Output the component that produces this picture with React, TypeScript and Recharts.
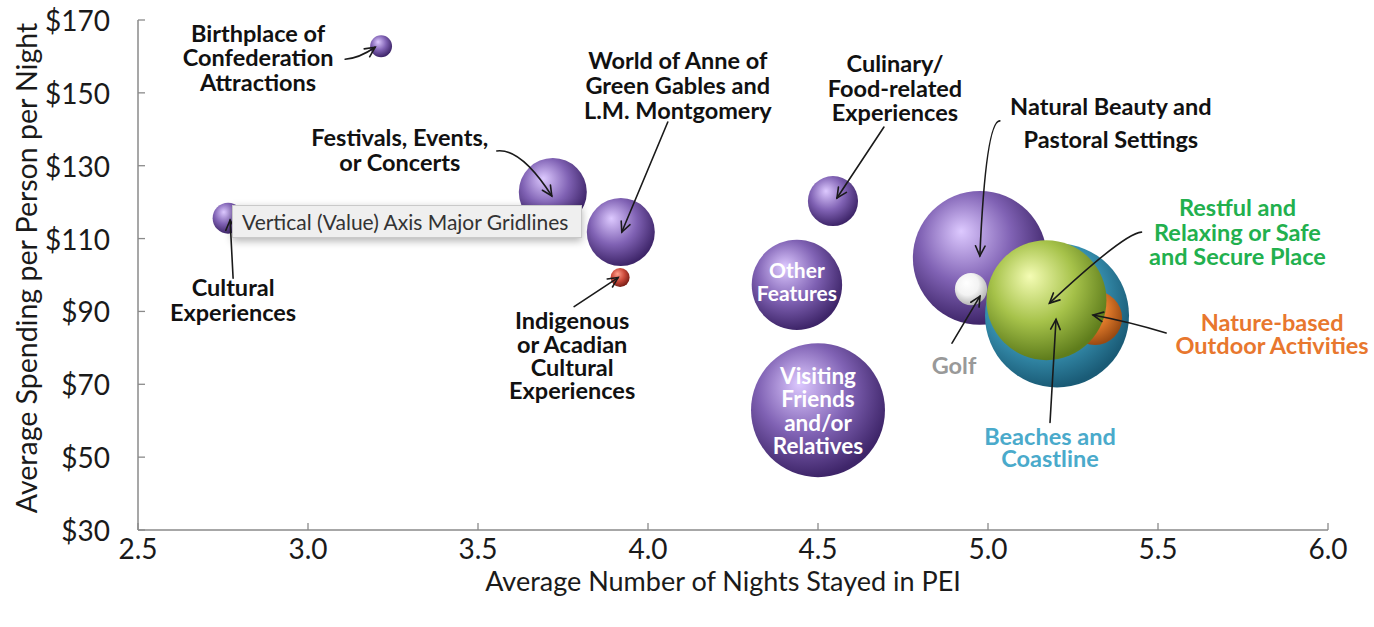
import React from 'react';
import { ScatterChart, Scatter, XAxis, YAxis, ZAxis } from 'recharts';

// ---------- data ----------
const categories = [
  'Natural Beauty and Pastoral Settings',
  'Golf',
  'Beaches and Coastline',
  'Nature-based Outdoor Activities',
  'Restful and Relaxing or Safe and Secure Place',
  'Birthplace of Confederation Attractions',
  'Cultural Experiences',
  'Festivals, Events, or Concerts',
  'World of Anne of Green Gables and L.M. Montgomery',
  'Indigenous or Acadian Cultural Experiences',
  'Culinary/Food-related Experiences',
  'Other Features',
  'Visiting Friends and/or Relatives',
];
const nights = [4.976, 4.95, 5.203, 5.315, 5.172, 3.215, 2.765, 3.72, 3.92, 3.918, 4.544, 4.438, 4.5];
const spending = [104.7, 96.1, 88.9, 88.2, 93.1, 162.8, 115.6, 122.8, 111.8, 99.3, 120.3, 97.3, 62.9];
const visitorShare = [45, 2.6, 52, 7.3, 36.1, 1.2, 2.4, 11.6, 11.6, 0.9, 6.3, 20.5, 45];
const tones = ['purple', 'white', 'teal', 'orange', 'green', 'purple', 'purple', 'purple', 'purple', 'red', 'purple', 'purple', 'purple'];

const xTicks = [2.5, 3.0, 3.5, 4.0, 4.5, 5.0, 5.5, 6.0];
const yTicks = [30, 50, 70, 90, 110, 130, 150, 170];

const data = categories.map((name, i) => ({
  name,
  x: nights[i],
  y: spending[i],
  z: visitorShare[i],
  tone: tones[i],
}));

// ---------- styles ----------
const FONT = 'Lato, "Open Sans", sans-serif';
const AXIS = '#8a8a8a';

const PALETTE: Record<string, { hi: string; mid: string; lo: string }> = {
  purple: { hi: '#ddc9ff', mid: '#8062b4', lo: '#3e2569' },
  red: { hi: '#ffa08c', mid: '#cc4a3b', lo: '#7a1e16' },
  white: { hi: '#ffffff', mid: '#f3f3f3', lo: '#b5b5b5' },
  teal: { hi: '#a5e3f4', mid: '#3f9fc0', lo: '#1a5b76' },
  orange: { hi: '#ffc58c', mid: '#e07a2a', lo: '#9a4a12' },
  green: { hi: '#f4fcb4', mid: '#a6c24a', lo: '#5f7d1c' },
};

type Pt = [number, number];
type LabelCfg = {
  lines: string[];
  color: string;
  dx: number;
  dy: number[];
  size?: number;
  arrow?: { from: Pt; to: Pt; ctrl?: Pt };
};

const LABELS: Record<string, LabelCfg> = {
  'Natural Beauty and Pastoral Settings': {
    lines: ['Natural Beauty and', 'Pastoral Settings'], color: '#111', dx: 131, dy: [-152, -119],
    arrow: { from: [20, -137], ctrl: [6, -137], to: [0, -2] },
  },
  Golf: {
    lines: ['Golf'], color: '#999999', dx: -17, dy: [76],
    arrow: { from: [-19, 54], to: [9, 7] },
  },
  'Beaches and Coastline': {
    lines: ['Beaches and', 'Coastline'], color: '#4aaacb', dx: -7, dy: [121, 143],
    arrow: { from: [-7, 107], to: [-1, 4] },
  },
  'Nature-based Outdoor Activities': {
    lines: ['Nature-based', 'Outdoor Activities'], color: '#e8772e', dx: 177, dy: [4, 27],
    arrow: { from: [71, 15], ctrl: [35, 4], to: [-2, -3] },
  },
  'Restful and Relaxing or Safe and Secure Place': {
    lines: ['Restful and', 'Relaxing or Safe', 'and Secure Place'], color: '#22b04e', dx: 191, dy: [-93, -68, -44],
    arrow: { from: [95, -68], ctrl: [78, -67], to: [3, 3] },
  },
  'Birthplace of Confederation Attractions': {
    lines: ['Birthplace of', 'Confederation', 'Attractions'], color: '#111', dx: -123, dy: [-13, 11, 36],
    arrow: { from: [-36, 13], ctrl: [-22, 12], to: [-6, 1] },
  },
  'Cultural Experiences': {
    lines: ['Cultural', 'Experiences'], color: '#111', dx: 5, dy: [69, 94],
    arrow: { from: [5, 60], to: [2, 2] },
  },
  'Festivals, Events, or Concerts': {
    lines: ['Festivals, Events,', 'or Concerts'], color: '#111', dx: -153, dy: [-55, -30],
    arrow: { from: [-56, -41], ctrl: [-32, -44], to: [-1, 4] },
  },
  'World of Anne of Green Gables and L.M. Montgomery': {
    lines: ['World of Anne of', 'Green Gables and', 'L.M. Montgomery'], color: '#111', dx: 57, dy: [-172, -147, -122],
    arrow: { from: [47, -110], to: [1, 0] },
  },
  'Indigenous or Acadian Cultural Experiences': {
    lines: ['Indigenous', 'or Acadian', 'Cultural', 'Experiences'], color: '#111', dx: -48, dy: [42, 66, 89, 112],
    arrow: { from: [-46, 29], to: [-2, 0] },
  },
  'Culinary/Food-related Experiences': {
    lines: ['Culinary/', 'Food-related', 'Experiences'], color: '#111', dx: 62, dy: [-138, -113, -89],
    arrow: { from: [51, -74], to: [4, -3] },
  },
  'Other Features': {
    lines: ['Other', 'Features'], color: '#ffffff', dx: 0, dy: [-15, 8], size: 21,
  },
  'Visiting Friends and/or Relatives': {
    lines: ['Visiting', 'Friends', 'and/or', 'Relatives'], color: '#ffffff', dx: 0, dy: [-35, -12, 12, 35], size: 22.5,
  },
};

const safeId = (s: string) => s.replace(/[^a-zA-Z0-9]/g, '');

const radiusOf = (props: any) => {
  if (typeof props.size === 'number') return Math.sqrt(Math.max(props.size, 0) / Math.PI);
  return (props.width ?? 0) / 2;
};

const Sphere = (props: any) => {
  const { cx, cy, payload } = props;
  if (cx == null || cy == null) return null;
  const r = radiusOf(props);
  const p = PALETTE[payload.tone];
  const id = `sph-${safeId(payload.name)}`;
  return (
    <g>
      <defs>
        <radialGradient id={id} cx="42%" cy="38%" r="62%" fx="36%" fy="30%">
          <stop offset="0%" stopColor={p.hi} />
          <stop offset="55%" stopColor={p.mid} />
          <stop offset="100%" stopColor={p.lo} />
        </radialGradient>
      </defs>
      <circle cx={cx} cy={cy} r={r} fill={`url(#${id})`} />
    </g>
  );
};

const Annot = (props: any) => {
  const { cx, cy, payload } = props;
  if (cx == null || cy == null) return null;
  const cfg = LABELS[payload.name];
  if (!cfg) return null;
  let arrow = null;
  if (cfg.arrow) {
    const a = cfg.arrow;
    const fx = cx + a.from[0], fy = cy + a.from[1];
    const tx = cx + a.to[0], ty = cy + a.to[1];
    const c = a.ctrl ? [cx + a.ctrl[0], cy + a.ctrl[1]] : [fx, fy];
    const d = a.ctrl ? `M${fx},${fy} Q${c[0]},${c[1]} ${tx},${ty}` : `M${fx},${fy} L${tx},${ty}`;
    const ang = Math.atan2(ty - c[1], tx - c[0]);
    const L = 11, spread = 0.45;
    const h1 = [tx - L * Math.cos(ang - spread), ty - L * Math.sin(ang - spread)];
    const h2 = [tx - L * Math.cos(ang + spread), ty - L * Math.sin(ang + spread)];
    arrow = (
      <g stroke="#1a1a1a" strokeWidth={1.6} fill="none" strokeLinecap="round">
        <path d={d} />
        <path d={`M${h1[0]},${h1[1]} L${tx},${ty} L${h2[0]},${h2[1]}`} />
      </g>
    );
  }
  return (
    <g>
      {arrow}
      {cfg.lines.map((t, k) => (
        <text
          key={k}
          x={cx + cfg.dx}
          y={cy + cfg.dy[k]}
          textAnchor="middle"
          dominantBaseline="central"
          fontFamily={FONT}
          fontWeight={700}
          fontSize={cfg.size ?? 23.5}
          fill={cfg.color}
        >
          {t}
        </text>
      ))}
    </g>
  );
};

const X_MARGIN = 18;
const Y_MARGIN = 28;

const XTick = (props: any) => {
  const { x, y, payload } = props;
  const axisY = y - X_MARGIN;
  return (
    <g>
      <line x1={x} x2={x} y1={axisY} y2={axisY - 7} stroke={AXIS} strokeWidth={1.3} />
      <text x={x} y={y} textAnchor="middle" dominantBaseline="central" fontFamily={FONT} fontSize={28} fill="#1a1a1a">
        {Number(payload.value).toFixed(1)}
      </text>
    </g>
  );
};

const YTick = (props: any) => {
  const { x, y, payload } = props;
  const axisX = x + Y_MARGIN;
  return (
    <g>
      <line x1={axisX} x2={axisX + 7} y1={y} y2={y} stroke={AXIS} strokeWidth={1.3} />
      <text x={x} y={y} textAnchor="end" dominantBaseline="central" fontFamily={FONT} fontSize={28} fill="#1a1a1a">
        {`$${payload.value}`}
      </text>
    </g>
  );
};

export default function App() {
  return (
    <div style={{ position: 'relative', width: 1374, height: 627, background: '#fff', fontFamily: FONT }}>
      <style>{`body{margin:0;background:#fff;}`}</style>
      <ScatterChart width={1374} height={627} margin={{ top: 20, right: 46, bottom: 37, left: 38 }}>
        <XAxis
          type="number"
          dataKey="x"
          domain={[2.5, 6]}
          ticks={xTicks}
          interval={0}
          tickSize={0}
          tickMargin={X_MARGIN}
          tickLine={false}
          tick={(p: any) => <XTick {...p} />}
          axisLine={{ stroke: AXIS, strokeWidth: 1.5 }}
          height={60}
        />
        <YAxis
          type="number"
          dataKey="y"
          domain={[30, 170]}
          ticks={yTicks}
          interval={0}
          tickSize={0}
          tickMargin={Y_MARGIN}
          tickLine={false}
          tick={(p: any) => <YTick {...p} />}
          axisLine={{ stroke: AXIS, strokeWidth: 1.5 }}
          width={100}
        />
        <ZAxis type="number" dataKey="z" domain={[0, 52]} range={[0, Math.PI * 72 * 72]} />
        <Scatter data={data} shape={(p: any) => <Sphere {...p} />} isAnimationActive={false} />
        <Scatter data={data} shape={(p: any) => <Annot {...p} />} isAnimationActive={false} />
      </ScatterChart>

      <div
        style={{
          position: 'absolute', left: 723, top: 580, transform: 'translate(-50%, -50%)',
          fontSize: 27, color: '#1a1a1a', whiteSpace: 'nowrap',
        }}
      >
        Average Number of Nights Stayed in PEI
      </div>
      <div
        style={{
          position: 'absolute', left: 26, top: 268, transform: 'translate(-50%, -50%) rotate(-90deg)',
          fontSize: 28.5, color: '#1a1a1a', whiteSpace: 'nowrap',
        }}
      >
        Average Spending per Person per Night
      </div>

      <div
        style={{
          position: 'absolute', left: 232, top: 205, width: 350, height: 33, boxSizing: 'border-box',
          background: '#efefef', border: '1px solid #c9c9c9', boxShadow: '0 3px 8px rgba(0,0,0,0.3)',
          fontSize: 21, color: '#333', paddingLeft: 9, lineHeight: '31px', whiteSpace: 'nowrap', overflow: 'hidden',
        }}
      >
        Vertical (Value) Axis Major Gridlines
      </div>
    </div>
  );
}
